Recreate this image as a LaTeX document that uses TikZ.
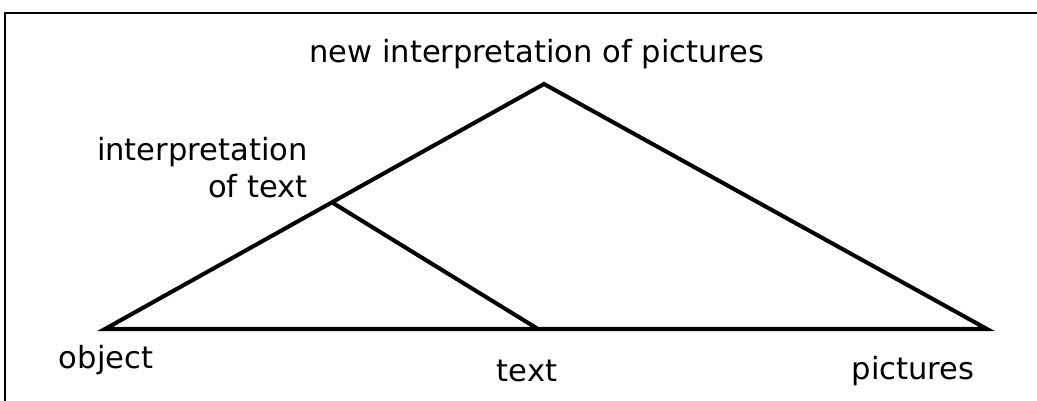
\documentclass[tikz,border=0pt]{standalone}
\usepackage{fontspec}
\setmainfont{DejaVu Sans}
\usetikzlibrary{positioning}
\tikzset{
  lbl/.style={font=\fontsize{17.4}{20}\selectfont, inner sep=0pt},
  edge/.style={line width=2.3pt, line join=miter},
  frm/.style={line width=1.1pt},
}

\begin{document}
\begin{tikzpicture}[x=0.02cm, y=-0.02cm]
  \useasboundingbox (0,0) rectangle (1037,401);

  % frame (cut off on the right and below)
  \coordinate (fbot) at (5,401);
  \coordinate (ftop) at (5,13);
  \coordinate (fright) at (1037,13);
  \draw[frm] (fbot) -- (ftop) -- (fright);

  % corners of the triangle
  \coordinate (apex)   at (544,84);
  \coordinate (left)   at (105,329);
  \coordinate (right)  at (987,329);
  \coordinate (mid)    at (333,203);
  \coordinate (base)   at (538,329);

  \draw[edge] (left) -- (apex) -- (right) -- cycle;
  \draw[edge] (mid) -- (base);

  % labels
  \node[lbl] (newint) at (537,54) {new interpretation of pictures};
  \node[lbl, align=right, anchor=east] (intext) at (308,168)
       {interpretation\\[1pt]of text};
  \node[lbl] (obj)  at (106,360) {object};
  \node[lbl] (txt)  at (527,371) {text};
  \node[lbl] (pics) at (913,371) {pictures};
\end{tikzpicture}
\end{document}
